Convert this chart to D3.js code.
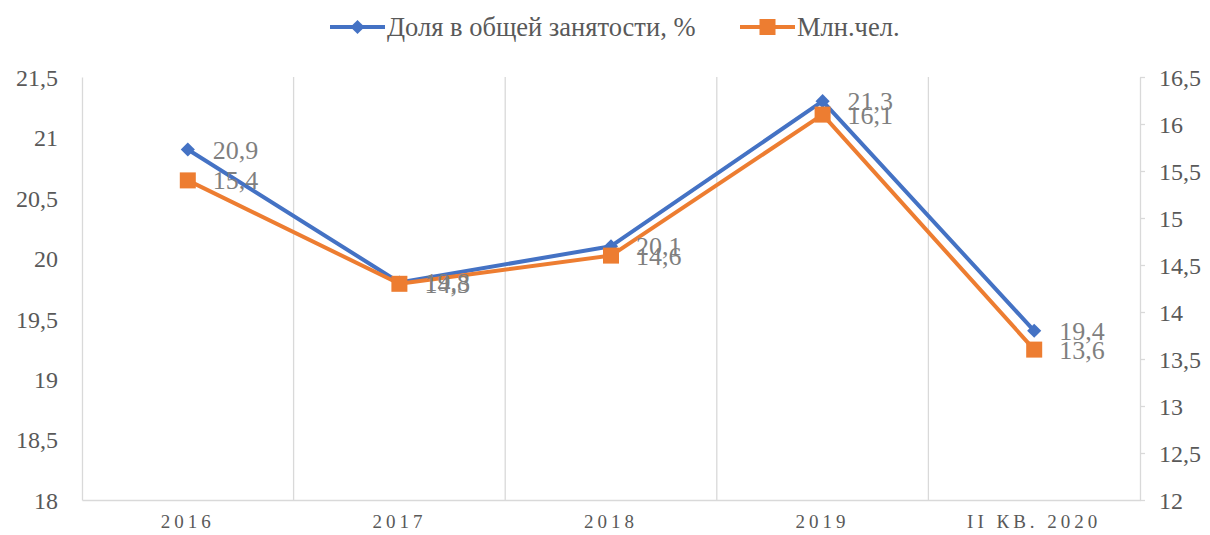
<!DOCTYPE html>
<html>
<head>
<meta charset="utf-8">
<script src="https://cdn.jsdelivr.net/npm/d3@7"></script>
<style>
  body { margin: 0; background: #fff; }
</style>
</head>
<body>
<script>
const w = 1210;
const h = 535;

const categories = ["2016", "2017", "2018", "2019", "II КВ. 2020"];
const shareValues = [20.9, 19.8, 20.1, 21.3, 19.4];
const millionValues = [15.4, 14.3, 14.6, 16.1, 13.6];
const leftTicks = [18, 18.5, 19, 19.5, 20, 20.5, 21, 21.5];
const rightTicks = [12, 12.5, 13, 13.5, 14, 14.5, 15, 15.5, 16, 16.5];
const seriesNames = ["Доля в общей занятости, %", "Млн.чел."];

const blue = "#4472C4";
const orange = "#ED7D31";
const grid = "#d9d9d9";
const labelColor = "#595959";
const serif = "'Liberation Serif', 'Times New Roman', serif";

const plotLeft = 82, plotRight = 1140, plotTop = 77, plotBottom = 500;

const svg = d3.select("body").append("svg")
  .attr("width", w)
  .attr("height", h);

const x = d3.scaleBand().domain(categories).range([plotLeft, plotRight]).padding(0);
const yL = d3.scaleLinear().domain([18, 21.5]).range([plotBottom, plotTop]);
const yR = d3.scaleLinear().domain([12, 16.5]).range([plotBottom, plotTop]);

const fmt = d => String(d).replace(".", ",");

// vertical gridlines between categories
svg.append("g").selectAll("line")
  .data(categories.slice(1))
  .enter().append("line")
  .attr("x1", d => x(d)).attr("x2", d => x(d))
  .attr("y1", plotTop).attr("y2", plotBottom)
  .attr("stroke", grid).attr("stroke-width", 1.3);

// left axis
const gL = svg.append("g").attr("transform", `translate(${plotLeft},0)`)
  .call(d3.axisLeft(yL).tickValues(leftTicks).tickSize(0).tickPadding(24).tickFormat(fmt));
gL.select(".domain").attr("stroke", grid).attr("stroke-width", 1.3);
gL.selectAll("text").style("font-family", serif).style("font-size", "24px")
  .attr("fill", labelColor).attr("dy", "0.35em");

// right axis
const gR = svg.append("g").attr("transform", `translate(${plotRight},0)`)
  .call(d3.axisRight(yR).tickValues(rightTicks).tickSize(5).tickSizeOuter(0).tickPadding(14).tickFormat(fmt));
gR.select(".domain").attr("stroke", grid).attr("stroke-width", 1.3);
gR.selectAll(".tick line").attr("stroke", grid).attr("stroke-width", 1.3);
gR.selectAll("text").style("font-family", serif).style("font-size", "24px")
  .attr("fill", labelColor).attr("dy", "0.35em");

// bottom axis
const gB = svg.append("g").attr("transform", `translate(0,${plotBottom})`)
  .call(d3.axisBottom(x).tickSize(0).tickPadding(15));
gB.select(".domain").attr("stroke", grid).attr("stroke-width", 1.3);
gB.selectAll("text").style("font-family", serif).style("font-size", "19px")
  .style("letter-spacing", "4px").attr("fill", labelColor);

const cx = d => x(d) + x.bandwidth() / 2;

// blue series
const lineL = d3.line().x((d, i) => cx(categories[i])).y(d => yL(d));
svg.append("path").datum(shareValues)
  .attr("d", lineL).attr("fill", "none")
  .attr("stroke", blue).attr("stroke-width", 4).attr("stroke-linejoin", "round");

// orange series
const lineR = d3.line().x((d, i) => cx(categories[i])).y(d => yR(d));
svg.append("path").datum(millionValues)
  .attr("d", lineR).attr("fill", "none")
  .attr("stroke", orange).attr("stroke-width", 4).attr("stroke-linejoin", "round");

svg.append("g").selectAll("path")
  .data(shareValues).enter().append("path")
  .attr("d", d3.symbol().type(d3.symbolSquare).size(100))
  .attr("transform", (d, i) => `translate(${cx(categories[i])},${yL(d)}) rotate(45)`)
  .attr("fill", blue);

svg.append("g").selectAll("rect")
  .data(millionValues).enter().append("rect")
  .attr("x", (d, i) => cx(categories[i]) - 8)
  .attr("y", d => yR(d) - 8)
  .attr("width", 16).attr("height", 16)
  .attr("fill", orange);

// data labels
svg.append("g").selectAll("text")
  .data(shareValues).enter().append("text")
  .attr("x", (d, i) => cx(categories[i]) + 25)
  .attr("y", d => yL(d) + 9)
  .style("font-family", serif).style("font-size", "26px")
  .attr("fill", "#7f7f7f")
  .text(fmt);

svg.append("g").selectAll("text")
  .data(millionValues).enter().append("text")
  .attr("x", (d, i) => cx(categories[i]) + 25)
  .attr("y", d => yR(d) + 9)
  .style("font-family", serif).style("font-size", "26px")
  .attr("fill", "#7f7f7f")
  .text(fmt);

// legend
const legend = svg.append("g");
const legendItems = [
  {name: seriesNames[0], color: blue, x0: 330, marker: "diamond"},
  {name: seriesNames[1], color: orange, x0: 740, marker: "square"}
];
legendItems.forEach(item => {
  legend.append("line")
    .attr("x1", item.x0).attr("x2", item.x0 + 55)
    .attr("y1", 27).attr("y2", 27)
    .attr("stroke", item.color).attr("stroke-width", 4);
  if (item.marker == "diamond") {
    legend.append("path")
      .attr("d", d3.symbol().type(d3.symbolSquare).size(100))
      .attr("transform", `translate(${item.x0 + 27.5},27) rotate(45)`)
      .attr("fill", item.color);
  } else {
    legend.append("rect")
      .attr("x", item.x0 + 19.5).attr("y", 19)
      .attr("width", 16).attr("height", 16)
      .attr("fill", item.color);
  }
  legend.append("text")
    .attr("x", item.x0 + 57).attr("y", 36)
    .style("font-family", serif).style("font-size", "26.5px")
    .attr("fill", labelColor)
    .text(item.name);
});
</script>
</body>
</html>
